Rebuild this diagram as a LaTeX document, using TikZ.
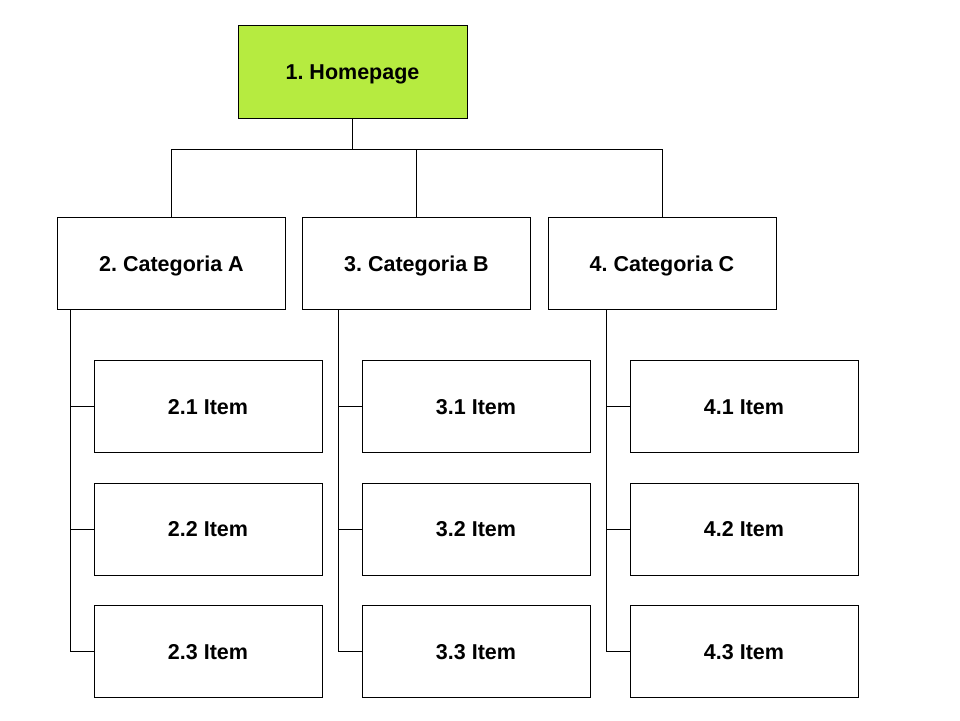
\documentclass[tikz,border=0pt]{standalone}
\usepackage{fontspec}
\setmainfont{Liberation Sans}
\definecolor{lime}{RGB}{182,235,64}
\begin{document}
\frenchspacing
\begin{tikzpicture}[x=1pt,y=-1pt,
  box/.style={draw=black,line width=1pt,minimum width=228pt,minimum height=92pt,inner sep=0pt,text height=15pt,text depth=0pt,font=\fontsize{21.5}{25}\selectfont\bfseries},
  conn/.style={draw=black,line width=1pt}]
\useasboundingbox (0,0) rectangle (960,720);
\node[box,fill=lime,minimum width=229pt,minimum height=93pt] (home) at (352.5,71.5) {1. Homepage};
\node[box] (ca) at (171.5,263.5) {2. Categoria A};
\node[box] (cb) at (416.5,263.5) {3. Categoria B};
\node[box] (cc) at (662,263.5) {4. Categoria C};
\foreach \c/\n/\x in {a/2/208, b/3/476, c/4/744}{
  \node[box] (\c1) at (\x,406.5) {\n.1 Item};
  \node[box] (\c2) at (\x,529) {\n.2 Item};
  \node[box] (\c3) at (\x,651.5) {\n.3 Item};
}
\coordinate (j) at (352.5,149);
\draw[conn] (home.south) -- (j);
\draw[conn] (ca.north) |- (j);
\draw[conn] (cb.north) -- (cb.north |- j);
\draw[conn] (cc.north) |- (j);
\foreach \c/\x in {a/70, b/338, c/606}{
  \coordinate (t\c) at (\x,310);
  \draw[conn] (t\c) |- (\c3.west);
  \draw[conn] (\c1.west) -- (\c1.west -| t\c);
  \draw[conn] (\c2.west) -- (\c2.west -| t\c);
}
\end{tikzpicture}
\end{document}
